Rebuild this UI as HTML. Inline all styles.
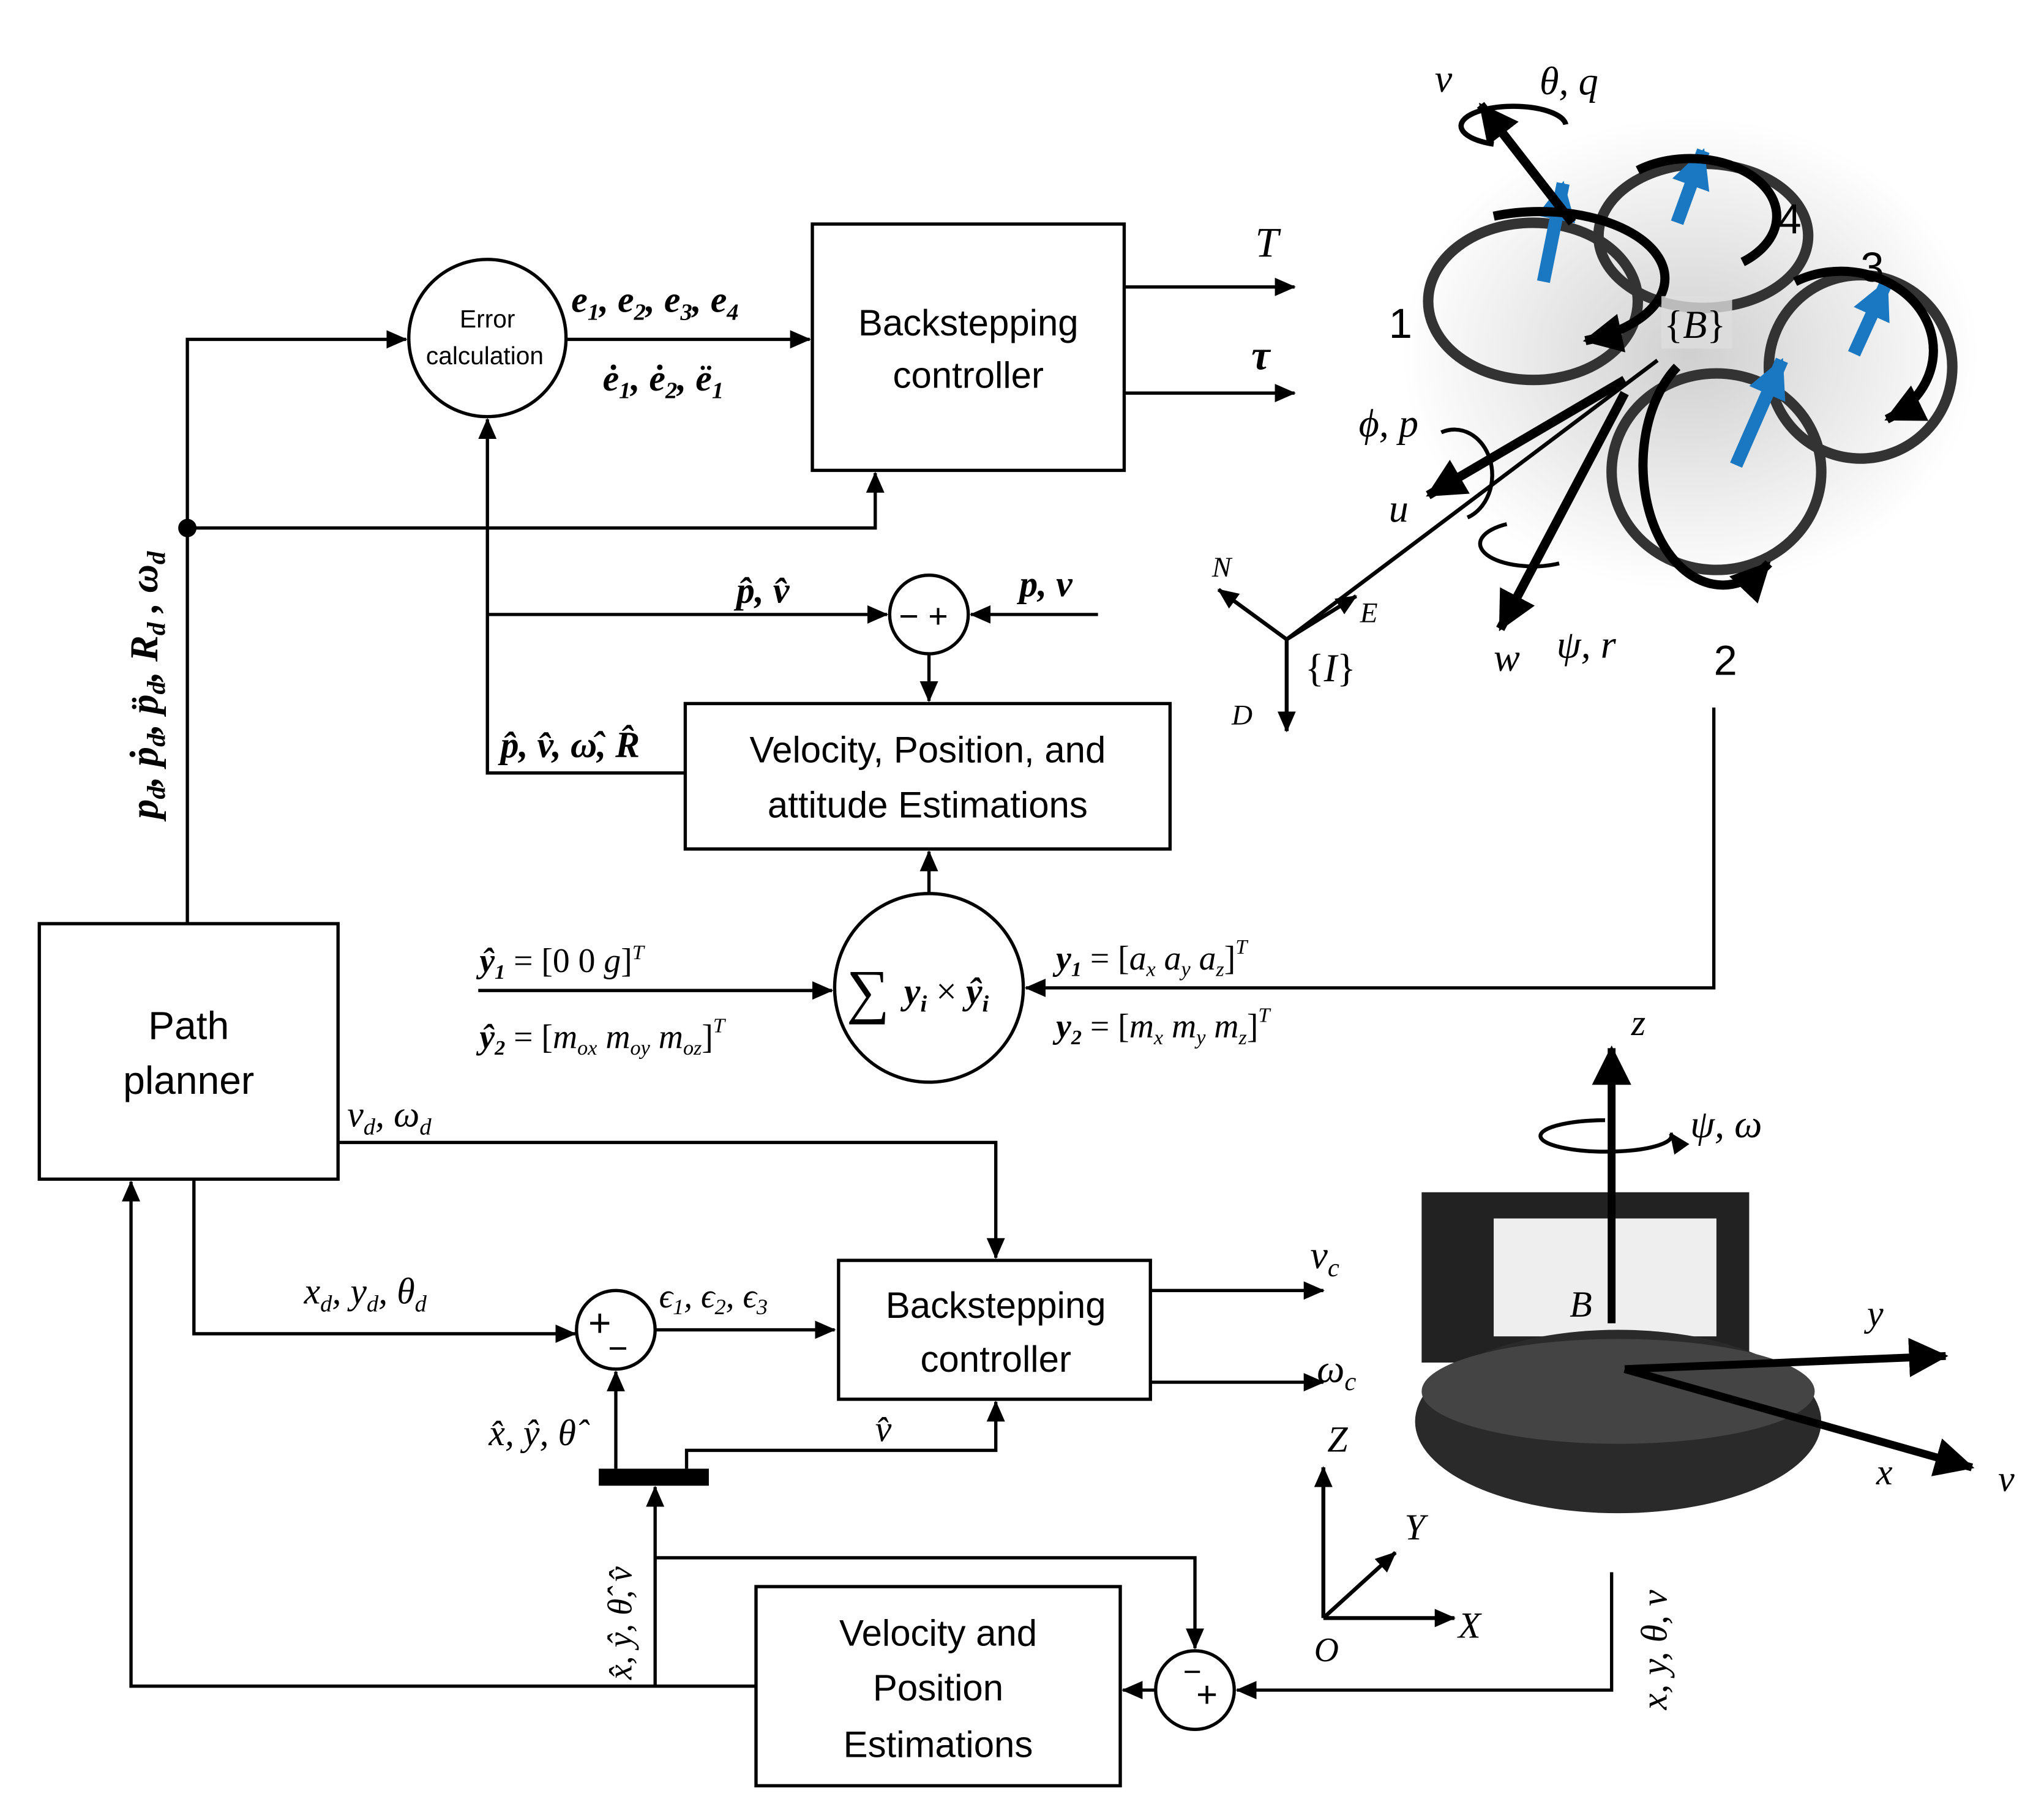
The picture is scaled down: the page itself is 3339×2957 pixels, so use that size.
<!DOCTYPE html>
<html><head><meta charset="utf-8"><style>
html,body{margin:0;padding:0;background:#fff}
svg{display:block}
text{font-family:"Liberation Serif",serif;font-style:italic;fill:#000}
.s{font-family:"Liberation Sans","DejaVu Sans",sans-serif;font-style:normal}
.b{font-weight:bold}
</style></head><body>
<svg width="3339" height="2957" viewBox="0 0 1560 1381.5" xmlns="http://www.w3.org/2000/svg">
<defs>
<marker id="a" markerWidth="16" markerHeight="14" refX="15" refY="7" orient="auto" markerUnits="userSpaceOnUse" viewBox="0 0 16 14"><path d="M0,0 L16,7 L0,14 z" fill="#000"/></marker>
<marker id="A" markerWidth="30" markerHeight="30" refX="28" refY="15" orient="auto" markerUnits="userSpaceOnUse" viewBox="0 0 30 30"><path d="M0,0 L30,15 L0,30 z" fill="#000"/></marker>
<marker id="B" markerWidth="30" markerHeight="30" refX="28" refY="15" orient="auto" markerUnits="userSpaceOnUse" viewBox="0 0 30 30"><path d="M0,0 L30,15 L0,30 z" fill="#1a78c2"/></marker>
<radialGradient id="g" cx="50%" cy="50%" r="50%"><stop offset="0" stop-color="#bbb"/><stop offset="1" stop-color="#fff"/></radialGradient>
</defs>
<g stroke="#000" stroke-width="2.5" fill="none">
<circle cx="372" cy="258" r="60"/>
<rect x="620" y="171" width="238" height="188"/>
<line x1="858" y1="219" x2="988" y2="219" marker-end="url(#a)"/>
<line x1="858" y1="300" x2="988" y2="300" marker-end="url(#a)"/>
<polyline points="143,705 143,259 310,259" marker-end="url(#a)"/>
<polyline points="143,403 668,403 668,361" marker-end="url(#a)"/>
<line x1="432" y1="259" x2="618" y2="259" marker-end="url(#a)"/>
<polyline points="523,590 372,590 372,320" marker-end="url(#a)"/>
<line x1="372" y1="469" x2="677" y2="469" marker-end="url(#a)"/>
<circle cx="709" cy="469" r="30"/>
<line x1="838" y1="469" x2="741" y2="469" marker-end="url(#a)"/>
<line x1="709" y1="499" x2="709" y2="535" marker-end="url(#a)"/>
<rect x="523" y="537" width="370" height="111"/>
<circle cx="709" cy="754" r="72"/>
<line x1="709" y1="682" x2="709" y2="650" marker-end="url(#a)"/>
<line x1="365" y1="756" x2="635" y2="756" marker-end="url(#a)"/>
<polyline points="1308,540 1308,754 783,754" marker-end="url(#a)"/>
<rect x="30" y="705" width="228" height="195"/>
<polyline points="258,872 760,872 760,960" marker-end="url(#a)"/>
<rect x="640" y="962" width="238" height="106"/>
<line x1="878" y1="985" x2="1010" y2="985" marker-end="url(#a)"/>
<line x1="878" y1="1055" x2="1010" y2="1055" marker-end="url(#a)"/>
<polyline points="148,900 148,1018 439,1018" marker-end="url(#a)"/>
<circle cx="470" cy="1015" r="30"/>
<line x1="500" y1="1015" x2="637" y2="1015" marker-end="url(#a)"/>
<line x1="470" y1="1121" x2="470" y2="1047" marker-end="url(#a)"/>
<polyline points="524,1121 524,1107 760,1107 760,1070" marker-end="url(#a)"/>
<line x1="500" y1="1287" x2="500" y2="1135" marker-end="url(#a)"/>
<polyline points="500,1189 912,1189 912,1258" marker-end="url(#a)"/>
<circle cx="912" cy="1290" r="30"/>
<polyline points="1230,1200 1230,1290 944,1290" marker-end="url(#a)"/>
<line x1="882" y1="1290" x2="857" y2="1290" marker-end="url(#a)"/>
<rect x="577" y="1211" width="278" height="152"/>
<polyline points="577,1287 100,1287 100,902" marker-end="url(#a)"/>
</g>
<circle cx="143" cy="403" r="7" fill="#000"/>
<rect x="457" y="1121" width="84" height="13" fill="#000"/>

<ellipse cx="1290" cy="270" rx="220" ry="180" fill="url(#g)" opacity="0.7"/>
<g stroke="#333" stroke-width="8" fill="none">
<ellipse cx="1170" cy="230" rx="80" ry="60"/>
<ellipse cx="1300" cy="180" rx="80" ry="55"/>
<ellipse cx="1420" cy="280" rx="70" ry="70"/>
<ellipse cx="1310" cy="360" rx="80" ry="75"/>
</g>
<g stroke="#1a78c2" stroke-width="10">
<line x1="1178" y1="215" x2="1193" y2="140" marker-end="url(#B)"/>
<line x1="1280" y1="170" x2="1300" y2="115" marker-end="url(#B)"/>
<line x1="1415" y1="270" x2="1440" y2="215" marker-end="url(#B)"/>
<line x1="1325" y1="355" x2="1360" y2="275" marker-end="url(#B)"/>
</g>
<g stroke="#000" stroke-width="7" fill="none">
<line x1="1200" y1="170" x2="1130" y2="80" marker-end="url(#A)"/>
<line x1="1240" y1="290" x2="1090" y2="378" marker-end="url(#A)"/>
<line x1="1240" y1="300" x2="1145" y2="480" marker-end="url(#A)"/>
<path d="M1140,165 A75,40 0 1 1 1210,260" marker-end="url(#A)"/>
<path d="M1250,130 A60,40 0 1 1 1330,200"/>
<path d="M1370,215 A70,60 0 1 1 1440,320" marker-end="url(#A)"/>
<path d="M1280,280 A60,90 0 0 0 1350,430" marker-end="url(#A)"/>
<path d="M1140,110 A40,15 0 1 1 1195,95" stroke-width="4"/>
</g>
<g stroke="#000" stroke-width="3" fill="none">
<line x1="982" y1="488" x2="1265" y2="275"/>
<line x1="982" y1="488" x2="930" y2="450" marker-end="url(#a)"/>
<line x1="982" y1="488" x2="1035" y2="455" marker-end="url(#a)"/>
<line x1="982" y1="488" x2="982" y2="558" marker-end="url(#a)"/>
<path d="M1100,330 A25,30 0 1 1 1120,395"/>
<path d="M1150,400 A35,15 0 1 0 1190,430"/>
</g>
<rect x="1268" y="226" width="54" height="40" fill="#ddd" opacity="0.8"/>
<text x="1270" y="258" font-size="30" style="font-style:normal">{<tspan font-style="italic">B</tspan>}</text>
<text x="1095" y="70" font-size="30">v</text>
<text x="1175" y="72" font-size="30">θ, q</text>
<text x="1060" y="258" font-size="32" class="s">1</text>
<text x="1308" y="515" font-size="32" class="s">2</text>
<text x="1420" y="215" font-size="32" class="s">3</text>
<text x="1357" y="178" font-size="32" class="s">4</text>
<text x="1037" y="333" font-size="30">ϕ, p</text>
<text x="1060" y="398" font-size="30">u</text>
<text x="1140" y="512" font-size="30">w</text>
<text x="1188" y="502" font-size="30">ψ, r</text>
<text x="925" y="440" font-size="22">N</text>
<text x="1038" y="475" font-size="22">E</text>
<text x="940" y="553" font-size="22">D</text>
<text x="996" y="520" font-size="30" style="font-style:normal">{<tspan font-style="italic">I</tspan>}</text>

<rect x="1085" y="910" width="250" height="130" fill="#222"/>
<rect x="1140" y="930" width="170" height="90" fill="#eee"/>
<ellipse cx="1235" cy="1085" rx="155" ry="70" fill="#2a2a2a"/>
<ellipse cx="1235" cy="1062" rx="150" ry="40" fill="#444"/>
<g stroke="#000" stroke-width="6" fill="none">
<line x1="1230" y1="1010" x2="1230" y2="800" marker-end="url(#A)"/>
<line x1="1240" y1="1045" x2="1485" y2="1035" marker-end="url(#A)"/>
<line x1="1240" y1="1045" x2="1505" y2="1120" marker-end="url(#A)"/>
<path d="M1225,855 A50,12 0 1 0 1275,865" stroke-width="3" marker-end="url(#a)"/>
</g>
<g stroke="#000" stroke-width="3" fill="none">
<line x1="1010" y1="1235" x2="1010" y2="1120" marker-end="url(#a)"/>
<line x1="1010" y1="1235" x2="1110" y2="1235" marker-end="url(#a)"/>
<line x1="1010" y1="1235" x2="1065" y2="1185" marker-end="url(#a)"/>
</g>
<text x="1198" y="1005" font-size="28">B</text>
<text x="1245" y="790" font-size="28">z</text>
<text x="1290" y="868" font-size="30">ψ, ω</text>
<text x="1425" y="1012" font-size="28">y</text>
<text x="1432" y="1133" font-size="28">x</text>
<text x="1525" y="1138" font-size="28">v</text>
<text x="1013" y="1108" font-size="28">Z</text>
<text x="1072" y="1175" font-size="28">Y</text>
<text x="1113" y="1250" font-size="28">X</text>
<text x="1003" y="1268" font-size="26">O</text>

<text x="372" y="250" font-size="19" text-anchor="middle" class="s">Error</text>
<text x="370" y="278" font-size="19" text-anchor="middle" class="s">calculation</text>
<text x="739" y="256" font-size="28" text-anchor="middle" class="s">Backstepping</text>
<text x="739" y="296" font-size="28" text-anchor="middle" class="s">controller</text>
<text x="436" y="238" font-size="28" class="b">e<tspan font-size="18" dy="6">1</tspan><tspan dy="-6">, e</tspan><tspan font-size="18" dy="6">2</tspan><tspan dy="-6">, e</tspan><tspan font-size="18" dy="6">3</tspan><tspan dy="-6">, e</tspan><tspan font-size="18" dy="6">4</tspan></text>
<text x="460" y="298" font-size="28" class="b">ė<tspan font-size="18" dy="6">1</tspan><tspan dy="-6">, ė</tspan><tspan font-size="18" dy="6">2</tspan><tspan dy="-6">, ë</tspan><tspan font-size="18" dy="6">1</tspan></text>
<text x="958" y="196" font-size="32">T</text>
<text x="955" y="282" font-size="32" class="b">τ</text>
<text x="562" y="460" font-size="28" class="b">p̂, v̂</text>
<text x="778" y="455" font-size="28" class="b">p, v</text>
<text x="686" y="479" font-size="26" class="s">− +</text>
<text x="382" y="578" font-size="28" class="b">p̂, v̂, ω̂, R̂</text>
<text x="708" y="582" font-size="28" text-anchor="middle" class="s">Velocity, Position, and</text>
<text x="708" y="624" font-size="28" text-anchor="middle" class="s">attitude Estimations</text>
<text x="646" y="772" font-size="46" style="font-style:normal">∑</text>
<text x="690" y="766" font-size="28"><tspan class="b">y</tspan><tspan font-size="18" dy="6" class="b">i</tspan><tspan dy="-6" style="font-style:normal"> × </tspan><tspan class="b">ŷ</tspan><tspan font-size="18" dy="6" class="b">i</tspan></text>
<text x="366" y="742" font-size="26"><tspan class="b">ŷ</tspan><tspan font-size="16" dy="5" class="b">1</tspan><tspan dy="-5" style="font-style:normal"> = [0 0 </tspan>g<tspan style="font-style:normal">]</tspan><tspan font-size="16" dy="-10">T</tspan></text>
<text x="366" y="800" font-size="26"><tspan class="b">ŷ</tspan><tspan font-size="16" dy="5" class="b">2</tspan><tspan dy="-5" style="font-style:normal"> = [</tspan>m<tspan font-size="16" dy="5">ox</tspan><tspan dy="-5"> m</tspan><tspan font-size="16" dy="5">oy</tspan><tspan dy="-5"> m</tspan><tspan font-size="16" dy="5">oz</tspan><tspan dy="-5" style="font-style:normal">]</tspan><tspan font-size="16" dy="-12">T</tspan></text>
<text x="806" y="740" font-size="26"><tspan class="b">y</tspan><tspan font-size="16" dy="5" class="b">1</tspan><tspan dy="-5" style="font-style:normal"> = [</tspan>a<tspan font-size="16" dy="5">x</tspan><tspan dy="-5"> a</tspan><tspan font-size="16" dy="5">y</tspan><tspan dy="-5"> a</tspan><tspan font-size="16" dy="5">z</tspan><tspan dy="-5" style="font-style:normal">]</tspan><tspan font-size="16" dy="-12">T</tspan></text>
<text x="806" y="792" font-size="26"><tspan class="b">y</tspan><tspan font-size="16" dy="5" class="b">2</tspan><tspan dy="-5" style="font-style:normal"> = [</tspan>m<tspan font-size="16" dy="5">x</tspan><tspan dy="-5"> m</tspan><tspan font-size="16" dy="5">y</tspan><tspan dy="-5"> m</tspan><tspan font-size="16" dy="5">z</tspan><tspan dy="-5" style="font-style:normal">]</tspan><tspan font-size="16" dy="-12">T</tspan></text>
<text transform="translate(120,625) rotate(-90)" font-size="30" class="b">p<tspan font-size="20" dy="6">d</tspan><tspan dy="-6">, ṗ</tspan><tspan font-size="20" dy="6">d</tspan><tspan dy="-6">, p̈</tspan><tspan font-size="20" dy="6">d</tspan><tspan dy="-6">, R</tspan><tspan font-size="20" dy="6">d</tspan><tspan dy="-6"> , ω</tspan><tspan font-size="20" dy="6">d</tspan></text>
<text x="144" y="793" font-size="30" text-anchor="middle" class="s">Path</text>
<text x="144" y="835" font-size="30" text-anchor="middle" class="s">planner</text>
<text x="265" y="860" font-size="28">v<tspan font-size="18" dy="6">d</tspan><tspan dy="-6">, ω</tspan><tspan font-size="18" dy="6">d</tspan></text>
<text x="232" y="995" font-size="28">x<tspan font-size="18" dy="6">d</tspan><tspan dy="-6">, y</tspan><tspan font-size="18" dy="6">d</tspan><tspan dy="-6">, θ</tspan><tspan font-size="18" dy="6">d</tspan></text>
<text x="449" y="1020" font-size="30" class="s">+</text>
<text x="464" y="1038" font-size="26" class="s">−</text>
<text x="503" y="998" font-size="26">ϵ<tspan font-size="17" dy="5">1</tspan><tspan dy="-5">, ϵ</tspan><tspan font-size="17" dy="5">2</tspan><tspan dy="-5">, ϵ</tspan><tspan font-size="17" dy="5">3</tspan></text>
<text x="760" y="1006" font-size="28" text-anchor="middle" class="s">Backstepping</text>
<text x="760" y="1047" font-size="28" text-anchor="middle" class="s">controller</text>
<text x="1000" y="968" font-size="30">v<tspan font-size="20" dy="6">c</tspan></text>
<text x="1005" y="1055" font-size="30">ω<tspan font-size="20" dy="6">c</tspan></text>
<text x="373" y="1103" font-size="28">x̂, ŷ, θ̂</text>
<text x="668" y="1100" font-size="28">v̂</text>
<text transform="translate(482,1282) rotate(-90)" font-size="26">x̂, ŷ, θ̂, v̂</text>
<text transform="translate(1272,1305) rotate(-90)" font-size="28">x, y, θ, v</text>
<text x="903" y="1284" font-size="24" class="s">−</text>
<text x="913" y="1303" font-size="28" class="s">+</text>
<text x="716" y="1256" font-size="28" text-anchor="middle" class="s">Velocity and</text>
<text x="716" y="1298" font-size="28" text-anchor="middle" class="s">Position</text>
<text x="716" y="1341" font-size="28" text-anchor="middle" class="s">Estimations</text>
</svg>
</body></html>
